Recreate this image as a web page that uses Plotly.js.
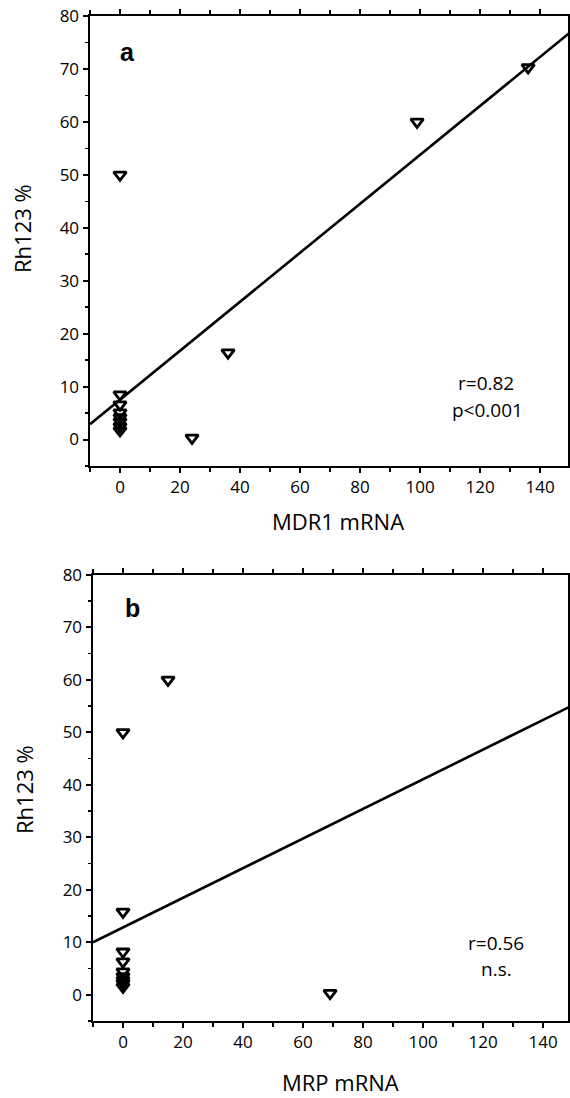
<!DOCTYPE html>
<html>
<head>
<meta charset="utf-8">
<script src="https://cdn.plot.ly/plotly-3.0.1.min.js"></script>
<style>
html,body{margin:0;padding:0;background:#fff;}
#chart{width:570px;height:1098px;}
</style>
</head>
<body>
<div id="chart"></div>
<script>
// Panel a: MDR1 mRNA vs Rh123 %
const mdr1_x = [0, 99, 136, 36, 24, 0, 0, 0, 0, 0, 0, 0];
const rh123_a = [50, 60, 70.3, 16.4, 0.3, 8.5, 6.6, 5.1, 4.2, 3.4, 2.5, 1.7];
const fitA_x = [-10, 150];
const fitA_y = [2.9, 76.9];
const statsA = ["r=0.82", "p<0.001"];

// Panel b: MRP mRNA vs Rh123 %
const mrp_x = [0, 15, 0, 69, 0, 0, 0, 0, 0, 0, 0];
const rh123_b = [50, 60, 15.8, 0.3, 8.2, 6.3, 4.4, 3.5, 2.8, 2.2, 1.5];
const fitB_x = [-10, 150];
const fitB_y = [10, 55.2];
const statsB = ["r=0.56", "n.s."];

const panelLabels = ["a", "b"];
const xTitles = ["MDR1 mRNA", "MRP mRNA"];
const yTitle = "Rh123 %";

const W = 570, H = 1098;
const FONT = "Open Sans, DejaVu Sans, sans-serif";

const markerStyle = {symbol: "triangle-down-open", size: 11, color: "#000", line: {color: "#000", width: 2.8}};
const traces = [
  {x: mdr1_x, y: rh123_a, xaxis: "x", yaxis: "y", mode: "markers", type: "scatter", marker: markerStyle, cliponaxis: false},
  {x: fitA_x, y: fitA_y, xaxis: "x", yaxis: "y", mode: "lines", type: "scatter", line: {color: "#000", width: 2.6}},
  {x: mrp_x, y: rh123_b, xaxis: "x2", yaxis: "y2", mode: "markers", type: "scatter", marker: markerStyle, cliponaxis: false},
  {x: fitB_x, y: fitB_y, xaxis: "x2", yaxis: "y2", mode: "lines", type: "scatter", line: {color: "#000", width: 2.6}}
];

function xax(domain, range) {
  return {
    domain: domain, range: range, dtick: 20, tick0: 0,
    showgrid: false, zeroline: false,
    showline: true, linecolor: "#000", linewidth: 2, mirror: "ticks",
    ticks: "outside", ticklen: 5, tickwidth: 2, tickcolor: "#000",
    minor: {dtick: 10, tick0: 0, ticks: "outside", ticklen: 4, tickwidth: 1.5, tickcolor: "#000", showgrid: false},
    tickfont: {family: FONT, size: 17, color: "#000"}
  };
}
function yax(domain) {
  return {
    domain: domain, range: [-5, 80], dtick: 10, tick0: 0,
    showgrid: false, zeroline: false,
    showline: true, linecolor: "#000", linewidth: 2.5, mirror: true,
    ticks: "outside", ticklen: 5, tickwidth: 2, tickcolor: "#000",
    minor: {dtick: 5, tick0: 0, ticks: "outside", ticklen: 3, tickwidth: 1.5, tickcolor: "#000", showgrid: false},
    tickfont: {family: FONT, size: 17, color: "#000"}
  };
}

function px(x) { return x / W; }
function py(y) { return 1 - y / H; }

const ann = [];
function paperText(text, x, y, size, opts) {
  ann.push(Object.assign({
    text: text, xref: "paper", yref: "paper", x: px(x), y: py(y),
    xanchor: "center", yanchor: "middle", showarrow: false,
    font: {family: FONT, size: size, color: "#000"}
  }, opts || {}));
}
const boldFont = {family: "Liberation Sans, Arial, sans-serif", size: 25, color: "#000"};
// Panel labels
paperText("<b>" + panelLabels[0] + "</b>", 127, 52, 25, {font: boldFont});
paperText("<b>" + panelLabels[1] + "</b>", 132, 608, 25, {font: boldFont});
// Stats
paperText(statsA[0], 486, 383, 19);
paperText(statsA[1], 487, 410, 19);
paperText(statsB[0], 496, 943, 19);
paperText(statsB[1], 496, 969, 19);
// Axis titles
paperText(xTitles[0], 338, 521, 22);
paperText(xTitles[1], 340, 1082, 22);
paperText(yTitle, 22, 229, 22, {textangle: -90});
paperText(yTitle, 24, 790, 22, {textangle: -90});

const layout = {
  width: W, height: H,
  margin: {l: 0, r: 0, t: 0, b: 0},
  paper_bgcolor: "#fff", plot_bgcolor: "#fff",
  showlegend: false,
  xaxis: Object.assign(xax([px(90), px(568)], [-10, 149.3]), {anchor: "y"}),
  yaxis: Object.assign(yax([py(466), py(16)]), {anchor: "x"}),
  xaxis2: Object.assign(xax([px(93), px(568)], [-10, 148.3]), {anchor: "y2"}),
  yaxis2: Object.assign(yax([py(1021), py(575)]), {anchor: "x2"}),
  annotations: ann
};

Plotly.newPlot("chart", traces, layout, {staticPlot: true, displayModeBar: false});
</script>
</body>
</html>
